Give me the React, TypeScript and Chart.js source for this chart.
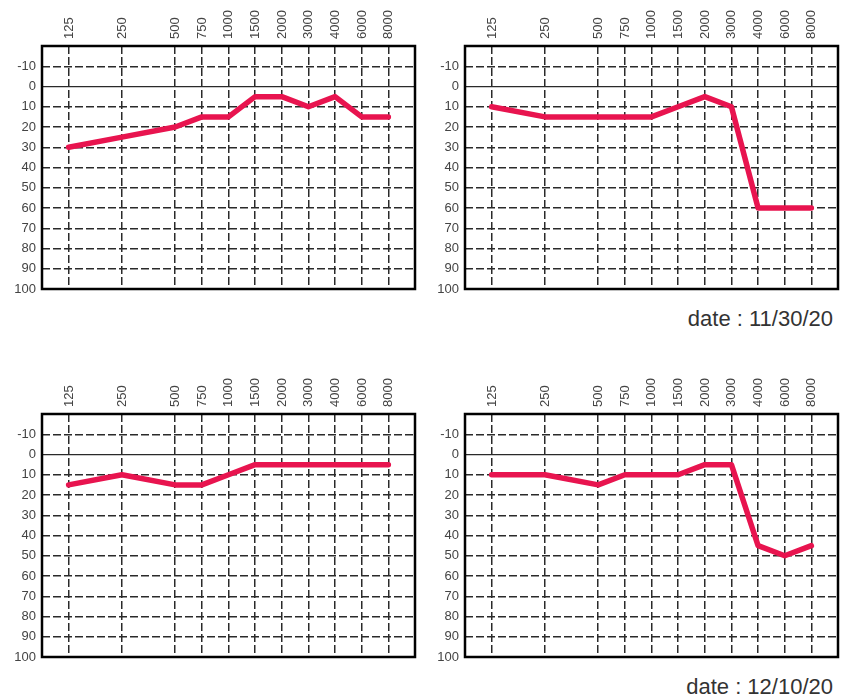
import { useEffect, useRef } from "react";
import { Chart, registerables } from "chart.js";

Chart.register(...registerables);

// frequency labels and where they sit on the (linear) x axis
const frequencies = ["125", "250", "500", "750", "1000", "1500", "2000", "3000", "4000", "6000", "8000"];
const freqPositions = [0, 2, 4, 5, 6, 7, 8, 9, 10, 11, 12];
const dbTicks = [-10, 0, 10, 20, 30, 40, 50, 60, 70, 80, 90, 100];

// hearing levels (dB) per panel
const topLeft = [30, 25, 20, 15, 15, 5, 5, 10, 5, 15, 15];
const topRight = [10, 15, 15, 15, 15, 10, 5, 10, 60, 60, 60];
const bottomLeft = [15, 10, 15, 15, 10, 5, 5, 5, 5, 5, 5];
const bottomRight = [10, 10, 15, 10, 10, 10, 5, 5, 45, 50, 45];

const dates = ["11/30/20", "12/10/20"];

const tickFont = { family: "'Liberation Sans', Arial, sans-serif", size: 13 };

const framePlugin = {
  id: "frame",
  afterDraw(chart: Chart) {
    const { ctx, chartArea } = chart;
    ctx.save();
    ctx.lineWidth = 2.5;
    ctx.strokeStyle = "#000";
    ctx.strokeRect(
      chartArea.left,
      chartArea.top,
      chartArea.right - chartArea.left,
      chartArea.bottom - chartArea.top
    );
    ctx.restore();
  },
};

function Audiogram({ values, left, top }: { values: number[]; left: number; top: number }) {
  const chartRef = useRef<HTMLCanvasElement>(null);
  const chartInstance = useRef<Chart | null>(null);

  useEffect(() => {
    if (!chartRef.current) return;
    if (chartInstance.current) chartInstance.current.destroy();

    const ctx = chartRef.current.getContext("2d");
    if (!ctx) return;

    chartInstance.current = new Chart(ctx, {
      type: "line",
      data: {
        datasets: [
          {
            data: freqPositions.map((x, i) => ({ x, y: values[i] })),
            borderColor: "#e8144f",
            borderWidth: 5.5,
            pointRadius: 0,
            tension: 0,
            borderJoinStyle: "round",
            borderCapStyle: "round",
          },
        ],
      },
      options: {
        responsive: false,
        animation: false,
        layout: { padding: { right: 5, bottom: 11 } },
        plugins: { legend: { display: false }, tooltip: { enabled: false } },
        scales: {
          x: {
            type: "linear",
            position: "top",
            min: -1,
            max: 13,
            afterBuildTicks: (scale: any) => {
              scale.ticks = freqPositions.map((v) => ({ value: v }));
            },
            afterFit: (scale: any) => {
              scale.height = 46;
              scale.paddingLeft = 0;
              scale.paddingRight = 0;
            },
            ticks: {
              autoSkip: false,
              minRotation: 90,
              maxRotation: 90,
              padding: 7,
              labelOffset: 16,
              color: "#444",
              font: tickFont,
              callback: (v: any) => frequencies[freqPositions.indexOf(Number(v))] ?? "",
            },
            grid: { color: "#2a2a2a", lineWidth: 1.5, drawTicks: false },
            border: { display: false, dash: [8, 3] },
          },
          y: {
            reverse: true,
            min: -20,
            max: 100,
            afterBuildTicks: (scale: any) => {
              scale.ticks = dbTicks.map((v) => ({ value: v }));
            },
            afterFit: (scale: any) => {
              scale.width = 42;
              scale.paddingTop = 0;
              scale.paddingBottom = 0;
            },
            ticks: {
              padding: 6,
              color: "#444",
              font: tickFont,
              callback: (v: any) => String(v),
            },
            grid: {
              color: "#2a2a2a",
              lineWidth: (c: any) => (c.tick && c.tick.value === 0 ? 1.2 : 1.5),
              drawTicks: false,
            },
            border: {
              display: false,
              dash: (c: any) => (c.tick && c.tick.value === 0 ? [] : [8, 3]),
            },
          },
        },
      },
      plugins: [framePlugin],
    } as any);

    return () => {
      if (chartInstance.current) {
        chartInstance.current.destroy();
        chartInstance.current = null;
      }
    };
  }, [values]);

  return (
    <canvas
      ref={chartRef}
      width={420}
      height={300}
      style={{ position: "absolute", left, top, width: 420, height: 300 }}
    />
  );
}

const dateStyle = {
  position: "absolute" as const,
  right: 17,
  fontFamily: "'Liberation Sans', Arial, sans-serif",
  fontSize: 22,
  lineHeight: "22px",
  color: "#333",
  whiteSpace: "nowrap" as const,
};

export default function App() {
  return (
    <div style={{ position: "absolute", left: 0, top: 0, width: 850, height: 699, background: "#fff" }}>
      <Audiogram values={topLeft} left={0} top={0} />
      <Audiogram values={topRight} left={423} top={0} />
      <div style={{ ...dateStyle, top: 307.5 }}>date : {dates[0]}</div>
      <Audiogram values={bottomLeft} left={0} top={368} />
      <Audiogram values={bottomRight} left={423} top={368} />
      <div style={{ ...dateStyle, top: 675.5 }}>date : {dates[1]}</div>
    </div>
  );
}
